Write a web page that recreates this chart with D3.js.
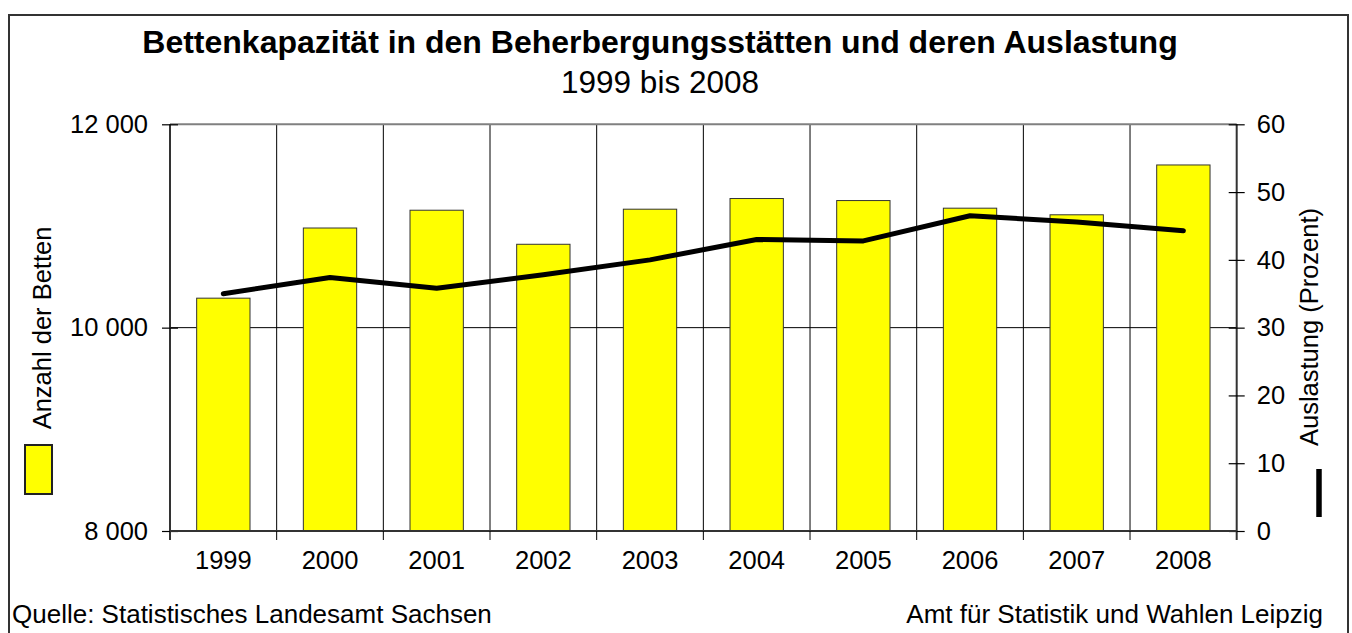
<!DOCTYPE html>
<html>
<head>
<meta charset="utf-8">
<script src="https://cdn.jsdelivr.net/npm/d3@7"></script>
<style>
  body { margin: 0; background: #fff; }
  svg text { font-family: "Liberation Sans", Arial, sans-serif; fill: #000; }
</style>
</head>
<body>
<div id="chart"></div>
<script>
// Werte
const years = ["1999", "2000", "2001", "2002", "2003", "2004", "2005", "2006", "2007", "2008"];
const betten = [10290, 10980, 11155, 10820, 11165, 11270, 11250, 11175, 11110, 11600];
const auslastung = [35.0, 37.4, 35.8, 37.8, 40.0, 43.0, 42.8, 46.5, 45.6, 44.3];
const bettenTicks = [8000, 10000, 12000];
const prozentTicks = [0, 10, 20, 30, 40, 50, 60];

const width = 1352;
const height = 633;
const plot = { left: 170, right: 1236.7, top: 124.3, bottom: 531 };

const svg = d3.select("#chart")
    .append("svg")
    .attr("width", width)
    .attr("height", height);

// Rahmen
svg.append("rect")
    .attr("x", 9)
    .attr("y", 15)
    .attr("width", 1339)
    .attr("height", 640)
    .attr("fill", "none")
    .attr("stroke", "#333")
    .attr("stroke-width", 2);

const x = d3.scaleBand()
    .domain(years)
    .range([plot.left, plot.right])
    .padding(0);

const yBetten = d3.scaleLinear()
    .domain([8000, 12000])
    .range([plot.bottom, plot.top]);

const yProzent = d3.scaleLinear()
    .domain([0, 60])
    .range([plot.bottom, plot.top]);

const fmt = d3.formatLocale({ decimal: ",", thousands: " ", grouping: [3], currency: ["", ""] }).format(",");

// Gitterlinien
svg.append("g")
    .selectAll("line")
    .data(years.slice(1))
    .enter().append("line")
    .attr("x1", d => x(d))
    .attr("x2", d => x(d))
    .attr("y1", plot.top)
    .attr("y2", plot.bottom)
    .attr("stroke", "#000")
    .attr("stroke-width", 1);

svg.append("line")
    .attr("x1", plot.left)
    .attr("x2", plot.right)
    .attr("y1", yBetten(10000))
    .attr("y2", yBetten(10000))
    .attr("stroke", "#000")
    .attr("stroke-width", 1);

svg.append("line")
    .attr("x1", plot.left)
    .attr("x2", plot.right)
    .attr("y1", plot.top)
    .attr("y2", plot.top)
    .attr("stroke", "#808080")
    .attr("stroke-width", 2);

// Balken
svg.append("g")
    .selectAll("rect")
    .data(betten)
    .enter().append("rect")
    .attr("x", (d, i) => x(years[i]) + x.bandwidth() / 4)
    .attr("y", d => yBetten(d))
    .attr("width", x.bandwidth() / 2)
    .attr("height", d => plot.bottom - yBetten(d))
    .attr("fill", "#ffff00")
    .attr("stroke", "#333")
    .attr("stroke-width", 1);

// Linie
const line = d3.line()
    .x((d, i) => x(years[i]) + x.bandwidth() / 2)
    .y(d => yProzent(d));

svg.append("path")
    .datum(auslastung)
    .attr("d", line)
    .attr("fill", "none")
    .attr("stroke", "#000")
    .attr("stroke-width", 5)
    .attr("stroke-linecap", "round")
    .attr("stroke-linejoin", "round");

// Achsen
const leftAxis = svg.append("g")
    .attr("transform", `translate(${plot.left},0)`)
    .call(d3.axisLeft(yBetten).tickValues(bettenTicks).tickSize(8).tickSizeOuter(0).tickFormat(fmt).tickPadding(14));

const rightAxis = svg.append("g")
    .attr("transform", `translate(${plot.right},0)`)
    .call(d3.axisRight(yProzent).tickValues(prozentTicks).tickSize(8).tickSizeOuter(0).tickPadding(12));

[leftAxis, rightAxis].forEach(g => {
    g.select(".domain").attr("stroke", "#333").attr("stroke-width", 2);
    g.selectAll(".tick line").attr("stroke", "#000").attr("stroke-width", 1.2);
    g.selectAll(".tick text").attr("font-size", 25.5).attr("font-family", "'Liberation Sans', Arial, sans-serif");
});
leftAxis.selectAll(".tick line").attr("x1", 8);
rightAxis.selectAll(".tick line").attr("x1", -8);
leftAxis.select(".domain").attr("d", `M0,${plot.top}V${plot.bottom + 9}`);
rightAxis.select(".domain").attr("d", `M0,${plot.top}V${plot.bottom + 9}`);

const bottomAxis = svg.append("g")
    .attr("transform", `translate(0,${plot.bottom})`)
    .call(d3.axisBottom(x).tickSize(0).tickPadding(20));
bottomAxis.select(".domain").attr("stroke", "#333").attr("stroke-width", 2)
    .attr("d", `M${plot.left},0H${plot.right}`);
bottomAxis.selectAll(".tick text").attr("font-size", 25.5).attr("font-family", "'Liberation Sans', Arial, sans-serif");

svg.append("g")
    .selectAll("line")
    .data(years.slice(1))
    .enter().append("line")
    .attr("x1", d => x(d))
    .attr("x2", d => x(d))
    .attr("y1", plot.bottom)
    .attr("y2", plot.bottom + 9)
    .attr("stroke", "#000")
    .attr("stroke-width", 1);

// Titel
svg.append("text")
    .attr("x", 660)
    .attr("y", 53)
    .attr("text-anchor", "middle")
    .attr("font-size", 32)
    .attr("font-weight", "bold")
    .text("Bettenkapazität in den Beherbergungsstätten und deren Auslastung");

svg.append("text")
    .attr("x", 660)
    .attr("y", 92.5)
    .attr("text-anchor", "middle")
    .attr("font-size", 31.5)
    .text("1999 bis 2008");

// Achsentitel und Legende
svg.append("text")
    .attr("transform", "translate(51,328) rotate(-90)")
    .attr("text-anchor", "middle")
    .attr("font-size", 25.5)
    .text("Anzahl der Betten");

svg.append("rect")
    .attr("x", 25)
    .attr("y", 445)
    .attr("width", 27)
    .attr("height", 49)
    .attr("fill", "#ffff00")
    .attr("stroke", "#222")
    .attr("stroke-width", 2);

svg.append("text")
    .attr("transform", "translate(1318,327) rotate(-90)")
    .attr("text-anchor", "middle")
    .attr("font-size", 25.5)
    .text("Auslastung (Prozent)");

svg.append("line")
    .attr("x1", 1319)
    .attr("x2", 1319)
    .attr("y1", 469)
    .attr("y2", 517)
    .attr("stroke", "#000")
    .attr("stroke-width", 5.5);

// Quellen
svg.append("text")
    .attr("x", 12)
    .attr("y", 623)
    .attr("font-size", 26)
    .text("Quelle: Statistisches Landesamt Sachsen");

svg.append("text")
    .attr("x", 1323)
    .attr("y", 623)
    .attr("text-anchor", "end")
    .attr("font-size", 26)
    .text("Amt für Statistik und Wahlen Leipzig");
</script>
</body>
</html>
